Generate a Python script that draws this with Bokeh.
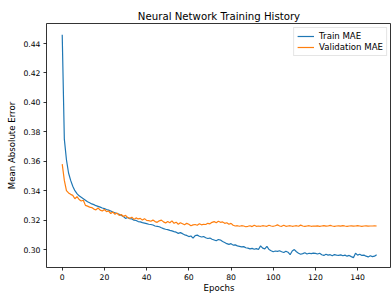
from bokeh.plotting import figure
from bokeh.models import FixedTicker, Range1d, Legend, LegendItem, NumeralTickFormatter
from bokeh.embed import file_html
from bokeh.resources import INLINE

epochs = list(range(150))
train_mae = [
    0.446, 0.375, 0.361, 0.352, 0.347, 0.343, 0.340, 0.338, 0.3365, 0.3355,
    0.3345, 0.3335, 0.3325, 0.3318, 0.3310, 0.3305, 0.3298, 0.3293, 0.3288, 0.3282,
    0.3278, 0.3272, 0.3268, 0.3262, 0.3255, 0.3250, 0.3245, 0.3240, 0.3232, 0.3225,
    0.3212, 0.3218, 0.3210, 0.3208, 0.3200, 0.3198, 0.3190, 0.3188, 0.3183, 0.3180,
    0.3176, 0.3172, 0.3170, 0.3167, 0.3160, 0.3158, 0.3155, 0.3148, 0.3142, 0.3138,
    0.3135, 0.3130, 0.3127, 0.3122, 0.3118, 0.3110, 0.3115, 0.3108, 0.3100, 0.3096,
    0.3088, 0.3092, 0.3078, 0.3095, 0.3098, 0.3090, 0.3085, 0.3088, 0.3080, 0.3075,
    0.3078, 0.3070, 0.3065, 0.3060, 0.3068, 0.3065, 0.3055, 0.3048, 0.3040, 0.3035,
    0.3040, 0.3030, 0.3032, 0.3025, 0.3022, 0.3018, 0.3020, 0.3012, 0.3010, 0.3005,
    0.3008, 0.3002, 0.3006, 0.3000, 0.3025, 0.3010, 0.3005, 0.3022, 0.3000, 0.2992,
    0.2985, 0.2990, 0.2988, 0.2992, 0.2985, 0.2980, 0.2988, 0.2982, 0.2965, 0.2990,
    0.3000, 0.2985, 0.2975, 0.2968, 0.2972, 0.2978, 0.2970, 0.2975, 0.2972, 0.2976,
    0.2974, 0.2970, 0.2975, 0.2965, 0.2960, 0.2968, 0.2962, 0.2965, 0.2958, 0.2966,
    0.2962, 0.2960, 0.2964, 0.2958, 0.2962, 0.2955, 0.2960, 0.2952, 0.2945, 0.2975,
    0.2962, 0.2968, 0.2960, 0.2962, 0.2955, 0.2950, 0.2958, 0.2952, 0.2955, 0.2965,
]
val_mae = [
    0.358, 0.347, 0.340, 0.3385, 0.3375, 0.3368, 0.3345, 0.3360, 0.3340, 0.3330,
    0.3335, 0.3300, 0.3295, 0.3288, 0.3285, 0.3275, 0.3270, 0.3282, 0.3268, 0.3262,
    0.3272, 0.3258, 0.3262, 0.3245, 0.3255, 0.3240, 0.3248, 0.3232, 0.3238, 0.3225,
    0.3232, 0.3218, 0.3212, 0.3220, 0.3205, 0.3215, 0.3208, 0.3212, 0.3200, 0.3210,
    0.3198, 0.3196, 0.3192, 0.3200, 0.3190, 0.3185, 0.3195, 0.3200, 0.3188, 0.3180,
    0.3190, 0.3182, 0.3195, 0.3178, 0.3186, 0.3172, 0.3182, 0.3175, 0.3168, 0.3178,
    0.3172, 0.3162, 0.3168, 0.3170, 0.3165, 0.3175, 0.3168, 0.3172, 0.3170, 0.3178,
    0.3175, 0.3185, 0.3190, 0.3182, 0.3192, 0.3185, 0.3188, 0.3178, 0.3182, 0.3172,
    0.3178, 0.3165, 0.3160, 0.3162, 0.3158, 0.3162, 0.3160, 0.3155, 0.3158, 0.3162,
    0.3156, 0.3165, 0.3158, 0.3160, 0.3158, 0.3162, 0.3160, 0.3158, 0.3165, 0.3160,
    0.3158, 0.3162, 0.3168, 0.3160, 0.3158, 0.3165, 0.3158, 0.3160, 0.3162, 0.3158,
    0.3160, 0.3162, 0.3158, 0.3166, 0.3160, 0.3157, 0.3160, 0.3162, 0.3158, 0.3160,
    0.3159, 0.3161, 0.3158, 0.3160, 0.3162, 0.3159, 0.3160, 0.3164, 0.3160, 0.3158,
    0.3160, 0.3161, 0.3159, 0.3163, 0.3160, 0.3158, 0.3160, 0.3161, 0.3159, 0.3160,
    0.3162, 0.3160, 0.3158, 0.3160, 0.3161, 0.3159, 0.3160, 0.3160, 0.3161, 0.3160,
]
x_ticks = [0, 20, 40, 60, 80, 100, 120, 140]
y_ticks = [0.30, 0.32, 0.34, 0.36, 0.38, 0.40, 0.42, 0.44]

FONT = "DejaVu Sans"

p = figure(width=391, height=295, output_backend="svg", toolbar_location=None,
           x_range=Range1d(-7.45, 156.05), y_range=Range1d(0.2878, 0.4536),
           title="Neural Network Training History",
           min_border_left=46, min_border_right=0, min_border_top=23, min_border_bottom=23)
p.background_fill_color = "white"
p.border_fill_color = "white"
p.outline_line_color = "#000000"
p.outline_line_width = 0.8
p.grid.visible = False

p.title.align = "center"
p.title.text_font = FONT
p.title.text_font_size = "10.2px"
p.title.text_font_style = "normal"
p.title.text_color = "#000000"
p.title.standoff = 3
p.title.offset = 0

line_t = p.line(epochs, train_mae, line_color="#1f77b4", line_width=1.2)
line_v = p.line(epochs, val_mae, line_color="#ff7f0e", line_width=1.2)

for ax in (p.xaxis[0], p.yaxis[0]):
    ax.major_label_text_font = FONT
    ax.major_label_text_font_size = "7.7px"
    ax.major_label_text_color = "#000000"
    ax.axis_label_text_font = FONT
    ax.axis_label_text_font_size = "8.6px"
    ax.axis_label_text_font_style = "normal"
    ax.axis_label_text_color = "#000000"
    ax.axis_line_color = None
    ax.major_tick_line_color = "#000000"
    ax.major_tick_line_width = 0.8
    ax.major_tick_out = 3
    ax.major_tick_in = 0
    ax.minor_tick_line_color = None
    ax.major_label_standoff = 3

p.xaxis[0].ticker = FixedTicker(ticks=x_ticks)
p.yaxis[0].ticker = FixedTicker(ticks=y_ticks)
p.yaxis[0].formatter = NumeralTickFormatter(format="0.00")
p.xaxis[0].axis_label = "Epochs"
p.xaxis[0].axis_label_standoff = 0
p.yaxis[0].axis_label = "Mean Absolute Error"
p.yaxis[0].axis_label_standoff = 3

legend = Legend(items=[LegendItem(label="Train MAE", renderers=[line_t]),
                       LegendItem(label="Validation MAE", renderers=[line_v])],
                location="top_right")
legend.label_text_font = FONT
legend.label_text_font_size = "8.6px"
legend.label_text_color = "#000000"
legend.label_height = 10
legend.glyph_height = 10
legend.glyph_width = 17
legend.label_standoff = 5
legend.spacing = 1
legend.padding = 3
legend.margin = 4
legend.border_line_color = "#cccccc"
legend.border_line_width = 1
legend.background_fill_alpha = 0.8
p.add_layout(legend)

open("out.html", "w").write(file_html(p, INLINE))
